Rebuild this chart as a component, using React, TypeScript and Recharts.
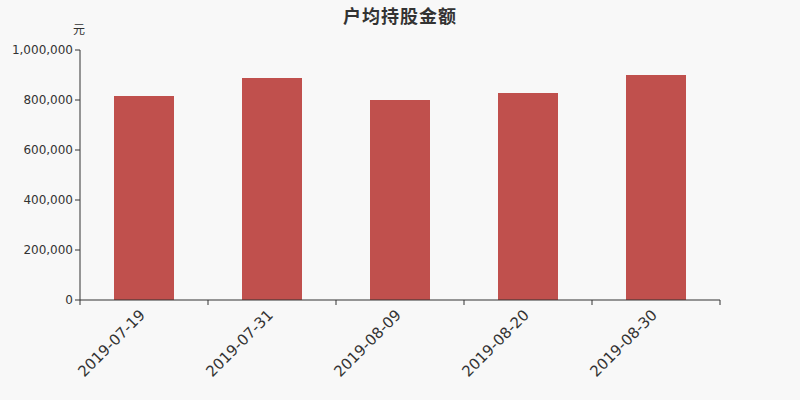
import React from "react";
import { BarChart, Bar, XAxis, YAxis } from "recharts";

const dates = ["2019-07-19", "2019-07-31", "2019-08-09", "2019-08-20", "2019-08-30"];
const amounts = [816000, 888000, 800000, 828000, 900000];
const yTicks = [0, 200000, 400000, 600000, 800000, 1000000];

const data = dates.map((d, i) => ({ date: d, amount: amounts[i] }));

const BAND = 128;

function DateTick(props: any) {
  const { x, y, payload, index } = props;
  const last = index === dates.length - 1;
  return (
    <g>
      <line x1={x - BAND / 2} y1={y - 8} x2={x - BAND / 2} y2={y - 3} stroke="#333" />
      {last && <line x1={x + BAND / 2} y1={y - 8} x2={x + BAND / 2} y2={y - 3} stroke="#333" />}
      <text
        x={x + 2}
        y={y + 8}
        textAnchor="end"
        fill="#333"
        fontSize={15}
        transform={`rotate(-45 ${x + 2} ${y + 8})`}
      >
        {payload.value}
      </text>
    </g>
  );
}

export default function App() {
  return (
    <div
      style={{
        position: "absolute",
        left: 0,
        top: 0,
        width: 800,
        height: 400,
        background: "#f8f8f8",
        fontFamily: "'DejaVu Sans', sans-serif",
      }}
    >
      <div
        style={{
          position: "absolute",
          top: 2,
          left: 0,
          width: 800,
          textAlign: "center",
          fontSize: 18,
          fontWeight: "bold",
          letterSpacing: 1,
          color: "#333",
          fontFamily: "'Noto Sans CJK SC', sans-serif",
        }}
      >
        户均持股金额
      </div>
      <div
        style={{
          position: "absolute",
          top: 20,
          left: 73,
          fontSize: 12,
          color: "#333",
          fontFamily: "'Noto Sans CJK SC', sans-serif",
        }}
      >
        元
      </div>
      <BarChart
        width={800}
        height={400}
        data={data}
        margin={{ top: 50, right: 80, left: 0, bottom: 0 }}
        barCategoryGap={34}
      >
        <XAxis
          dataKey="date"
          axisLine={{ stroke: "#333" }}
          tickLine={false}
          tick={<DateTick />}
          interval={0}
          height={100}
        />
        <YAxis
          width={80}
          domain={[0, 1000000]}
          ticks={yTicks}
          interval={0}
          axisLine={{ stroke: "#333" }}
          tickLine={{ stroke: "#333" }}
          tickSize={5}
          tick={{ fill: "#333", fontSize: 12 }}
          tickFormatter={(v: number) => v.toLocaleString("en-US")}
        />
        <Bar dataKey="amount" fill="#c0504d" isAnimationActive={false} />
      </BarChart>
    </div>
  );
}
